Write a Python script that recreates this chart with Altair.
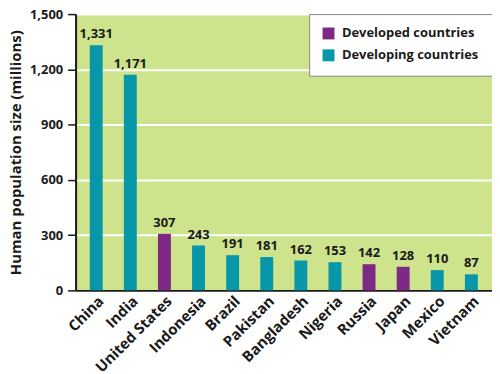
import altair as alt
import pandas as pd

countries = ["China", "India", "United States", "Indonesia", "Brazil", "Pakistan",
             "Bangladesh", "Nigeria", "Russia", "Japan", "Mexico", "Vietnam"]
population = [1331, 1171, 307, 243, 191, 181, 162, 153, 142, 128, 110, 87]
status = ["Developing countries", "Developing countries", "Developed countries",
          "Developing countries", "Developing countries", "Developing countries",
          "Developing countries", "Developing countries", "Developed countries",
          "Developed countries", "Developing countries", "Developing countries"]
y_ticks = [0, 300, 600, 900, 1200, 1500]
legend_names = ["Developed countries", "Developing countries"]
legend_colors = ["#7e2a84", "#0897a8"]

df = pd.DataFrame({"country": countries, "pop": population, "status": status})

FONT = "Open Sans"
INK = "#1a1a1a"

x = alt.X("country:N", sort=countries, title=None,
          scale=alt.Scale(paddingInner=0.63, paddingOuter=0.42),
          axis=alt.Axis(labelAngle=-45, labelAlign="right", labelBaseline="top",
                        labelFontSize=15, labelFontWeight="bold", labelColor=INK,
                        labelFont=FONT, ticks=False, labelPadding=3,
                        domainColor=INK, domainWidth=2, grid=False))
y = alt.Y("pop:Q", title="Human population size (millions)",
          scale=alt.Scale(domain=[0, 1500], nice=False),
          axis=alt.Axis(values=y_ticks, format=",d", labelFontSize=13, labelFontWeight="bold",
                        labelFont=FONT, labelColor=INK, tickSize=8, tickColor=INK,
                        tickWidth=1.5, labelPadding=5,
                        domainColor=INK, domainWidth=2,
                        grid=True, gridColor="white", gridWidth=2,
                        titleFont=FONT, titleFontSize=15, titleFontWeight="bold",
                        titleColor=INK, titlePadding=6))

bars = alt.Chart(df).mark_bar(size=13).encode(
    x=x, y=y,
    color=alt.Color("status:N", title=None,
                    scale=alt.Scale(domain=legend_names, range=legend_colors),
                    legend=alt.Legend(orient="top-right", offset=0, fillColor="white",
                                      strokeColor="#888888", padding=13,
                                      symbolType="square", symbolSize=144,
                                      symbolStrokeWidth=0, symbolOpacity=1,
                                      labelFont=FONT, labelFontSize=13,
                                      labelFontWeight="bold", labelColor=INK,
                                      labelOffset=7, rowPadding=8, cornerRadius=0))
)

text = alt.Chart(df).mark_text(dy=-11, font=FONT, fontSize=13, fontWeight="bold",
                               color=INK).encode(
    x=alt.X("country:N", sort=countries),
    y=alt.Y("pop:Q"),
    text=alt.Text("pop:Q", format=",d")
)

chart = (bars + text).properties(
    width=419, height=278,
    autosize=alt.AutoSizeParams(type="none"),
    padding={"left": 68, "top": 5, "right": 0, "bottom": 80},
    background="white"
).configure_view(fill="#cde38c", stroke=None)

chart.save("out.html", embed_options={"renderer": "svg", "actions": False})
